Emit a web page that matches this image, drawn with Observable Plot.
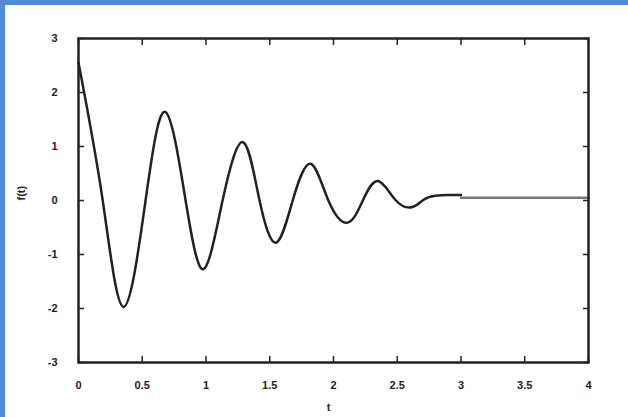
<!DOCTYPE html>
<html>
<head>
<meta charset="utf-8">
<script src="https://cdn.jsdelivr.net/npm/d3@7"></script>
<script src="https://cdn.jsdelivr.net/npm/@observablehq/plot@0.6"></script>
<style>
  html, body { margin: 0; padding: 0; background: #fff; }
  #wrap { position: relative; width: 628px; height: 417px; overflow: hidden; }
  #bt { position: absolute; left: 0; top: 0; width: 628px; height: 5px; background: #528ad6; }
  #bl { position: absolute; left: 0; top: 0; width: 5px; height: 417px; background: #528ad6; }
  svg { font-family: "Liberation Sans", "DejaVu Sans", sans-serif; }
</style>
</head>
<body>
<div id="wrap"><div id="chart"></div><div id="bt"></div><div id="bl"></div></div>
<script>
// Damped response f(t)
const tMain = [0, 0.19, 0.354, 0.526, 0.68, 0.84, 0.98, 1.13, 1.29, 1.42, 1.55, 1.68, 1.82, 1.96, 2.11, 2.23, 2.35, 2.49, 2.62, 2.71, 2.80, 2.9, 3.0];
const fMain = [2.55, 0, -1.97, 0, 1.64, 0, -1.27, 0, 1.08, 0, -0.78, 0, 0.68, 0, -0.41, 0, 0.36, 0, -0.12, 0.02, 0.09, 0.1, 0.1];
const tTail = [3.0, 4.0];
const fTail = [0.05, 0.05];
const xTicks = [0, 0.5, 1, 1.5, 2, 2.5, 3, 3.5, 4];
const yTicks = [-3, -2, -1, 0, 1, 2, 3];
const xLabel = "t";
const yLabel = "f(t)";

const mainData = tMain.map((t, i) => ({t, f: fMain[i]}));
const tailData = tTail.map((t, i) => ({t, f: fTail[i]}));

const ink = "#222";
const chart = Plot.plot({
  width: 628,
  height: 417,
  marginLeft: 78,
  marginRight: 40,
  marginTop: 38,
  marginBottom: 55,
  style: {fontSize: "11px", color: ink, background: "transparent"},
  x: {domain: [0, 4]},
  y: {domain: [-3, 3]},
  marks: [
    Plot.axisX({anchor: "bottom", ticks: xTicks, tickSize: -6, tickPadding: 25, tickFormat: d => String(d), label: null, strokeWidth: 1.5, fontWeight: "bold"}),
    Plot.axisX({anchor: "top", ticks: xTicks, tickSize: -6, tickFormat: () => "", label: null, strokeWidth: 1.5}),
    Plot.axisY({anchor: "left", ticks: yTicks, tickSize: -6, tickPadding: 27, tickFormat: d => String(d), label: null, strokeWidth: 1.5, fontWeight: "bold"}),
    Plot.axisY({anchor: "right", ticks: yTicks, tickSize: -6, tickFormat: () => "", label: null, strokeWidth: 1.5}),
    Plot.line(tailData, {x: "t", y: "f", stroke: "#777", strokeWidth: 2.5}),
    Plot.line(mainData, {x: "t", y: "f", stroke: ink, strokeWidth: 2.5, curve: "natural"}),
    Plot.frame({stroke: ink, strokeWidth: 2.5}),
    Plot.text([xLabel], {text: d => d, frameAnchor: "bottom", dy: 48, dx: -5, fontSize: 11, fontWeight: "bold"}),
    Plot.text([yLabel], {text: d => d, frameAnchor: "left", dx: -57, rotate: -90, fontSize: 11, fontWeight: "bold"})
  ]
});
document.getElementById("chart").appendChild(chart);
</script>
</body>
</html>
